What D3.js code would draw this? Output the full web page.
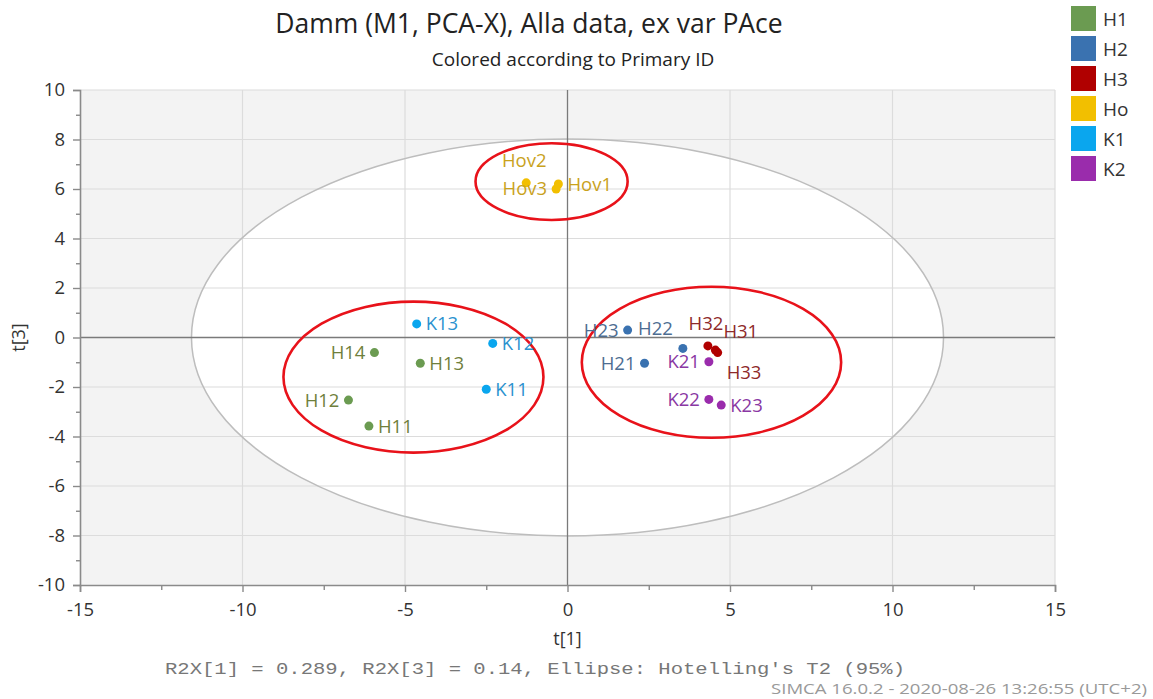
<!DOCTYPE html>
<html>
<head>
<meta charset="utf-8">
<script src="https://cdn.jsdelivr.net/npm/d3@7"></script>
<style>
  body { margin: 0; background: #fff; }
  svg { display: block; font-family: "Open Sans", sans-serif; }
</style>
</head>
<body>
<svg width="1153" height="699"></svg>
<script>
// Score plot data
var groups = ["H1", "H2", "H3", "Ho", "K1", "K2"];
var groupColors = ["#6b9b51", "#3a72b0", "#b00000", "#f2bf00", "#0aa6ee", "#9a2cac"];
var labelColors = ["#6f7f3c", "#4d6d92", "#8e2a2a", "#c9a21c", "#2a92cf", "#8a38a3"];

var obsNames = ["H11", "H12", "H13", "H14", "H21", "H22", "H23", "H31", "H32", "H33",
  "Hov1", "Hov2", "Hov3", "K11", "K12", "K13", "K21", "K22", "K23"];
var obsGroup = ["H1", "H1", "H1", "H1", "H2", "H2", "H2", "H3", "H3", "H3",
  "Ho", "Ho", "Ho", "K1", "K1", "K1", "K2", "K2", "K2"];
var t1 = [-6.11, -6.74, -4.53, -5.94, 2.37, 3.55, 1.85, 4.55, 4.32, 4.62,
  -0.28, -1.27, -0.35, -2.50, -2.30, -4.64, 4.35, 4.35, 4.73];
var t3 = [-3.58, -2.53, -1.04, -0.61, -1.04, -0.44, 0.30, -0.51, -0.34, -0.61,
  6.20, 6.25, 6.00, -2.09, -0.24, 0.55, -0.98, -2.50, -2.73];
// where SIMCA put each label relative to its point
var labelSide = ["r", "l", "r", "l", "l", "tl", "l", "tr", "t", "br",
  "r", "t", "l", "r", "r", "r", "l", "l", "r"];

var xTicks = [-15, -10, -5, 0, 5, 10, 15];
var yTicks = [-10, -8, -6, -4, -2, 0, 2, 4, 6, 8, 10];

// Hotelling's T2 (95%) ellipse semi axes
var t2Radius = [11.57, 8.02];
// hand drawn red circles: [cx, cy, rx, ry] in score units
var marks = [[-0.49, 6.3, 2.34, 1.55], [-4.74, -1.6, 4.0, 3.05], [4.43, -1.0, 3.99, 3.05]];

var svg = d3.select("svg");

var x = d3.scaleLinear().domain([-15, 15]).range([80, 1055]);
var y = d3.scaleLinear().domain([-10, 10]).range([585, 90]);

var plot = svg.append("g");

// background, grey outside the ellipse, white inside
plot.append("rect")
  .attr("x", x(-15)).attr("y", y(10))
  .attr("width", x(15) - x(-15)).attr("height", y(-10) - y(10))
  .attr("fill", "#f3f3f3");

plot.append("ellipse")
  .attr("cx", x(0)).attr("cy", y(0))
  .attr("rx", x(t2Radius[0]) - x(0)).attr("ry", y(0) - y(t2Radius[1]))
  .attr("fill", "#fff");

// grid
plot.append("g").selectAll("line")
  .data(yTicks.filter(function(d) { return d !== 0 && d !== -10; }))
  .enter().append("line")
    .attr("x1", x(-15)).attr("x2", x(15))
    .attr("y1", function(d) { return y(d); }).attr("y2", function(d) { return y(d); })
    .attr("stroke", "#dcdcdc").attr("stroke-width", 1.2);

plot.append("g").selectAll("line")
  .data(xTicks.filter(function(d) { return d !== 0 && d !== -15; }))
  .enter().append("line")
    .attr("y1", y(-10)).attr("y2", y(10))
    .attr("x1", function(d) { return x(d); }).attr("x2", function(d) { return x(d); })
    .attr("stroke", "#dcdcdc").attr("stroke-width", 1.2);

plot.append("ellipse")
  .attr("cx", x(0)).attr("cy", y(0))
  .attr("rx", x(t2Radius[0]) - x(0)).attr("ry", y(0) - y(t2Radius[1]))
  .attr("fill", "none").attr("stroke", "#bdbdbd").attr("stroke-width", 1.5);

// zero lines
plot.append("line")
  .attr("x1", x(-15)).attr("x2", x(15)).attr("y1", y(0)).attr("y2", y(0))
  .attr("stroke", "#7a7a7a").attr("stroke-width", 1.3);
plot.append("line")
  .attr("x1", x(0)).attr("x2", x(0)).attr("y1", y(-10)).attr("y2", y(10))
  .attr("stroke", "#7a7a7a").attr("stroke-width", 1.3);

// axes (plain hyphen for negatives, like SIMCA)
function plain(d) { return String(d); }

var yAxis = svg.append("g")
  .attr("transform", "translate(" + x(-15) + ",0)")
  .call(d3.axisLeft(y).tickValues(yTicks).tickFormat(plain).tickSize(7).tickPadding(8));
var yMinor = svg.append("g")
  .attr("transform", "translate(" + x(-15) + ",0)")
  .call(d3.axisLeft(y).tickValues(d3.range(-9, 10, 2)).tickSize(4).tickFormat(""));

var xAxis = svg.append("g")
  .attr("transform", "translate(0," + y(-10) + ")")
  .call(d3.axisBottom(x).tickValues(xTicks).tickFormat(plain).tickSize(7).tickPadding(11));
var xMinor = svg.append("g")
  .attr("transform", "translate(0," + y(-10) + ")")
  .call(d3.axisBottom(x).tickValues([-12.5, -7.5, -2.5, 2.5, 7.5, 12.5]).tickSize(5).tickFormat(""));

[yAxis, yMinor, xAxis, xMinor].forEach(function(a) {
  a.select(".domain").attr("stroke", "#8a8a8a").attr("stroke-width", 1.6);
  a.selectAll(".tick line").attr("stroke", "#8a8a8a").attr("stroke-width", 1.4);
  a.selectAll("text").attr("fill", "#333").style("font-size", "18.5px")
    .style("font-family", "'Open Sans', sans-serif");
});
yMinor.select(".domain").remove();
xMinor.select(".domain").remove();

// red circles
plot.append("g").selectAll("ellipse")
  .data(marks)
  .enter().append("ellipse")
    .attr("cx", function(d) { return x(d[0]); })
    .attr("cy", function(d) { return y(d[1]); })
    .attr("rx", function(d) { return x(d[2]) - x(0); })
    .attr("ry", function(d) { return y(0) - y(d[3]); })
    .attr("fill", "none").attr("stroke", "#e8121a").attr("stroke-width", 2.6);

// points
var obs = obsNames.map(function(n, i) {
  return { name: n, group: obsGroup[i], t1: t1[i], t3: t3[i], side: labelSide[i] };
});
var color = d3.scaleOrdinal().domain(groups).range(groupColors);
var labelColor = d3.scaleOrdinal().domain(groups).range(labelColors);

var node = plot.append("g").selectAll(".node")
  .data(obs)
  .enter().append("g")
    .attr("class", "node")
    .attr("transform", function(d) { return "translate(" + x(d.t1) + "," + y(d.t3) + ")"; });

node.append("circle")
  .attr("r", 4.5)
  .attr("fill", function(d) { return color(d.group); });

var offsets = {
  r:  { dx: 9,   dy: 0,   anchor: "start" },
  l:  { dx: -9,  dy: 0,   anchor: "end" },
  t:  { dx: -2,  dy: -22, anchor: "middle" },
  tl: { dx: -10, dy: -20, anchor: "end" },
  tr: { dx: 8,   dy: -19, anchor: "start" },
  br: { dx: 9,   dy: 20,  anchor: "start" }
};

node.append("text")
  .attr("x", function(d) { return offsets[d.side].dx; })
  .attr("y", function(d) { return offsets[d.side].dy; })
  .attr("dy", "0.35em")
  .attr("text-anchor", function(d) { return offsets[d.side].anchor; })
  .attr("fill", function(d) { return labelColor(d.group); })
  .style("font-size", "18.5px")
  .text(function(d) { return d.name; });

// titles
svg.append("text")
  .attr("x", 529).attr("y", 33)
  .attr("text-anchor", "middle")
  .attr("fill", "#222")
  .style("font-size", "26.5px")
  .text("Damm (M1, PCA-X), Alla data, ex var PAce");

svg.append("text")
  .attr("x", 573).attr("y", 66)
  .attr("text-anchor", "middle")
  .attr("fill", "#222")
  .style("font-size", "19px")
  .text("Colored according to Primary ID");

svg.append("text")
  .attr("x", x(0)).attr("y", 645)
  .attr("text-anchor", "middle")
  .attr("fill", "#333")
  .style("font-size", "18px")
  .text("t[1]");

svg.append("text")
  .attr("transform", "translate(25," + y(0) + ") rotate(-90)")
  .attr("text-anchor", "middle")
  .attr("fill", "#333")
  .style("font-size", "18px")
  .text("t[3]");

svg.append("text")
  .attr("x", 165).attr("y", 674)
  .attr("fill", "#777")
  .attr("textLength", 740).attr("lengthAdjust", "spacingAndGlyphs")
  .style("font-family", "'Liberation Mono', monospace")
  .style("font-size", "17px")
  .text("R2X[1] = 0.289, R2X[3] = 0.14, Ellipse: Hotelling's T2 (95%)");

svg.append("text")
  .attr("x", 771).attr("y", 694)
  .attr("fill", "#999")
  .attr("textLength", 376).attr("lengthAdjust", "spacingAndGlyphs")
  .style("font-size", "15px")
  .text("SIMCA 16.0.2 - 2020-08-26 13:26:55 (UTC+2)");

// legend
var legend = svg.append("g").selectAll(".legend")
  .data(groups)
  .enter().append("g")
    .attr("class", "legend")
    .attr("transform", function(d, i) { return "translate(1071," + (6 + i * 30) + ")"; });

legend.append("rect")
  .attr("width", 25).attr("height", 25)
  .attr("fill", function(d) { return color(d); });

legend.append("text")
  .attr("x", 32).attr("y", 13)
  .attr("dy", "0.35em")
  .attr("fill", "#333")
  .style("font-size", "19px")
  .text(function(d) { return d; });
</script>
</body>
</html>
